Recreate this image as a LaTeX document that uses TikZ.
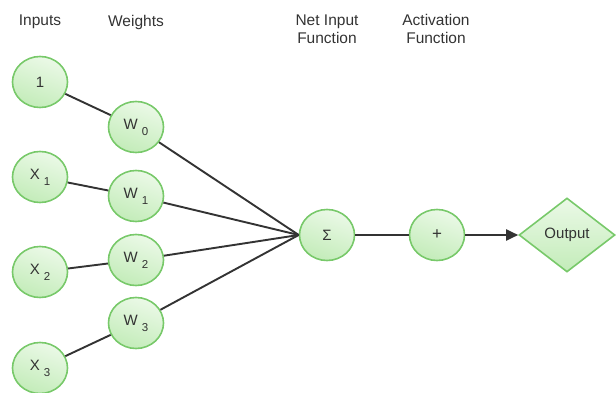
\documentclass[tikz,border=0pt]{standalone}
\usepackage{fontspec}
\setmainfont{Liberation Sans}
\usetikzlibrary{shapes.geometric,arrows.meta}
\definecolor{nodeborder}{HTML}{78C96A}
\definecolor{filltop}{HTML}{EBF9E7}
\definecolor{fillbot}{HTML}{C3ECB9}
\definecolor{ink}{HTML}{333333}
\newcommand{\sublabel}[2]{#1\hspace{4pt}\raisebox{-0.75ex}{\fontsize{11.5}{13}\selectfont #2}}
\tikzset{
  x=1pt, y=-1pt,
  neuron/.style={ellipse, draw=nodeborder, line width=1.6pt,
    top color=filltop, bottom color=fillbot, shading angle=-20,
    minimum width=55pt, minimum height=51pt, inner sep=0pt,
    text=ink, font=\fontsize{15}{17}\selectfont},
  outbox/.style={diamond, draw=nodeborder, line width=1.6pt,
    top color=filltop, bottom color=fillbot,
    minimum width=96pt, minimum height=74pt, inner sep=0pt, aspect=1.3,
    text=ink, font=\fontsize{15}{17}\selectfont},
  caption/.style={text=ink, font=\fontsize{15.5}{18.5}\selectfont, align=center},
  link/.style={draw=ink, line width=1.9pt},
}
\begin{document}
\begin{tikzpicture}
\useasboundingbox (0,0) rectangle (616,393);

% column headings
\node[caption] (hin) at (40,22) {Inputs};
\node[caption] (hw) at (136,22) {Weights};
\node[caption] (hnet) at (327,29) {Net Input\\Function};
\node[caption] (hact) at (436,29) {Activation\\Function};

% inputs
\node[neuron] (x0) at (40,82) {1};
\node[neuron] (x1) at (40,177) {\sublabel{X}{1}};
\node[neuron] (x2) at (40,272) {\sublabel{X}{2}};
\node[neuron] (x3) at (40,368) {\sublabel{X}{3}};

% weights
\node[neuron] (w0) at (136,127) {\sublabel{W}{0}};
\node[neuron] (w1) at (136,196) {\sublabel{W}{1}};
\node[neuron] (w2) at (136,260) {\sublabel{W}{2}};
\node[neuron] (w3) at (136,323) {\sublabel{W}{3}};

% summation, activation, output
\node[neuron] (sum) at (327,235) {Σ};
\node[neuron, font=\fontsize{17}{19}\selectfont] (act) at (437,235) {+};
\node[outbox] (out) at (567,235) {Output};

% connections
\draw[link] (x0) -- (w0);
\draw[link] (x1) -- (w1);
\draw[link] (x2) -- (w2);
\draw[link] (x3) -- (w3);
\foreach \w in {w0,w1,w2,w3}
  \draw[link] (\w) -- (sum.west);
\draw[link] (sum) -- (act);
\draw[link, -{Triangle[length=12pt,width=11pt]}] (act.east) -- (out.west);
\end{tikzpicture}
\end{document}
